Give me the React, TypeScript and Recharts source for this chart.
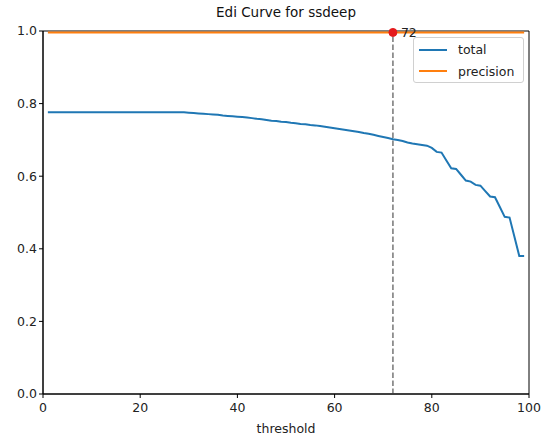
import React from 'react';
import {
  LineChart, Line, XAxis, YAxis, ReferenceLine, ReferenceDot, ReferenceArea, Legend,
} from 'recharts';

const thresholds = [
  1, 2, 3, 4, 5, 6, 7, 8, 9, 10, 11, 12, 13, 14, 15, 16, 17, 18, 19, 20,
  21, 22, 23, 24, 25, 26, 27, 28, 29, 30, 31, 32, 33, 34, 35, 36, 37, 38, 39, 40,
  41, 42, 43, 44, 45, 46, 47, 48, 49, 50, 51, 52, 53, 54, 55, 56, 57, 58, 59, 60,
  61, 62, 63, 64, 65, 66, 67, 68, 69, 70, 71, 72, 73, 74, 75, 76, 77, 78, 79, 80,
  81, 82, 83, 84, 85, 86, 87, 88, 89, 90, 91, 92, 93, 94, 95, 96, 97, 98, 99,
];

const totalValues = [
  0.776, 0.776, 0.776, 0.776, 0.776, 0.776, 0.776, 0.776, 0.776, 0.776,
  0.776, 0.776, 0.776, 0.776, 0.776, 0.776, 0.776, 0.776, 0.776, 0.776,
  0.776, 0.776, 0.776, 0.776, 0.776, 0.776, 0.776, 0.776, 0.776, 0.775,
  0.774, 0.773, 0.772, 0.771, 0.770, 0.769, 0.767, 0.766, 0.765, 0.764,
  0.763, 0.762, 0.760, 0.758, 0.757, 0.755, 0.753, 0.752, 0.750, 0.749,
  0.747, 0.746, 0.744, 0.743, 0.741, 0.740, 0.738, 0.736, 0.734, 0.732,
  0.730, 0.728, 0.726, 0.724, 0.722, 0.719, 0.717, 0.714, 0.711, 0.708,
  0.705, 0.702, 0.700, 0.697, 0.693, 0.690, 0.688, 0.686, 0.684, 0.678,
  0.667, 0.665, 0.643, 0.622, 0.620, 0.604, 0.588, 0.585, 0.576, 0.574,
  0.559, 0.544, 0.542, 0.515, 0.488, 0.486, 0.433, 0.380, 0.380,
];

const precisionValues = [
  0.996, 0.996, 0.996, 0.996, 0.996, 0.996, 0.996, 0.996, 0.996, 0.996,
  0.996, 0.996, 0.996, 0.996, 0.996, 0.996, 0.996, 0.996, 0.996, 0.996,
  0.996, 0.996, 0.996, 0.996, 0.996, 0.996, 0.996, 0.996, 0.996, 0.996,
  0.996, 0.996, 0.996, 0.996, 0.996, 0.996, 0.996, 0.996, 0.996, 0.996,
  0.996, 0.996, 0.996, 0.996, 0.996, 0.996, 0.996, 0.996, 0.996, 0.996,
  0.996, 0.996, 0.996, 0.996, 0.996, 0.996, 0.996, 0.996, 0.996, 0.996,
  0.996, 0.996, 0.996, 0.996, 0.996, 0.996, 0.996, 0.996, 0.996, 0.996,
  0.996, 0.996, 0.996, 0.996, 0.996, 0.996, 0.996, 0.996, 0.996, 0.996,
  0.996, 0.996, 0.996, 0.996, 0.996, 0.996, 0.996, 0.996, 0.996, 0.996,
  0.996, 0.996, 0.996, 0.996, 0.996, 0.996, 0.996, 0.996, 0.996,
];

const xTicks = [0, 20, 40, 60, 80, 100];
const yTicks = [0, 0.2, 0.4, 0.6, 0.8, 1.0];
const bestThreshold = 72;
const bestPrecision = 0.996;
const title = 'Edi Curve for ssdeep';
const xLabel = 'threshold';

const series = [
  { key: 'total', color: '#1f77b4' },
  { key: 'precision', color: '#ff7f0e' },
];

const data = thresholds.map((t, i) => ({
  threshold: t,
  total: totalValues[i],
  precision: precisionValues[i],
}));

const FONT = '"DejaVu Sans", sans-serif';

const LegendBox = () => (
  <div
    style={{
      boxSizing: 'border-box',
      width: 111,
      height: 46,
      border: '1px solid #d0d0d0',
      borderRadius: 3,
      background: 'rgba(255,255,255,0.8)',
      padding: '1px 0 0 5px',
      fontFamily: FONT,
      fontSize: 12.5,
      color: '#222',
    }}
  >
    {series.map((s) => (
      <div key={s.key} style={{ display: 'flex', alignItems: 'center', height: 21.5 }}>
        <div style={{ width: 28, height: 2, background: s.color, marginRight: 11 }} />
        <span>{s.key}</span>
      </div>
    ))}
  </div>
);

export default function App() {
  return (
    <div style={{ position: 'absolute', left: 0, top: 0, width: 545, height: 438, background: '#fff' }}>
      <div
        style={{
          position: 'absolute',
          left: 43,
          width: 486,
          top: 3,
          textAlign: 'center',
          fontFamily: FONT,
          fontSize: 13.5,
          lineHeight: '18px',
          color: '#111',
        }}
      >
        {title}
      </div>
      <LineChart
        width={545}
        height={438}
        data={data}
        margin={{ top: 31, right: 16, left: 0, bottom: 0 }}
        style={{ fontFamily: FONT }}
      >
        <XAxis
          dataKey="threshold"
          type="number"
          domain={[0, 100]}
          ticks={xTicks}
          allowDataOverflow
          height={44}
          tickSize={4}
          tickLine={{ stroke: '#000' }}
          axisLine={{ stroke: '#000' }}
          tick={{ fill: '#222', fontSize: 12.5, dy: 3 }}
          label={{ value: xLabel, position: 'insideBottom', offset: 5, fill: '#222', fontSize: 12.5 }}
        />
        <YAxis
          type="number"
          domain={[0, 1]}
          ticks={yTicks}
          allowDataOverflow
          width={43}
          tickSize={4}
          tickLine={{ stroke: '#000' }}
          axisLine={{ stroke: '#000' }}
          tick={{ fill: '#222', fontSize: 12.5 }}
          tickFormatter={(v: number) => v.toFixed(1)}
        />
        <ReferenceArea x1={0} x2={100} y1={0} y2={1} fill="none" stroke="#000" strokeWidth={1} ifOverflow="visible" />
        <ReferenceLine x={bestThreshold} stroke="#7f7f7f" strokeWidth={1.6} strokeDasharray="5.5 2.5" />
        <Line type="linear" dataKey="total" stroke={series[0].color} strokeWidth={2} dot={false} isAnimationActive={false} />
        <Line type="linear" dataKey="precision" stroke={series[1].color} strokeWidth={2} dot={false} isAnimationActive={false} />
        <ReferenceDot
          x={bestThreshold}
          y={bestPrecision}
          r={4}
          fill="#e41a1c"
          stroke="#e41a1c"
          ifOverflow="visible"
          label={{ value: String(bestThreshold), position: 'right', offset: 4, fill: '#222', fontSize: 12.5 }}
        />
        <Legend
          layout="vertical"
          align="center"
          verticalAlign="middle"
          content={() => <LegendBox />}
          wrapperStyle={{ position: 'absolute', left: 413, top: 37, width: 'auto', height: 'auto' }}
        />
      </LineChart>
    </div>
  );
}
